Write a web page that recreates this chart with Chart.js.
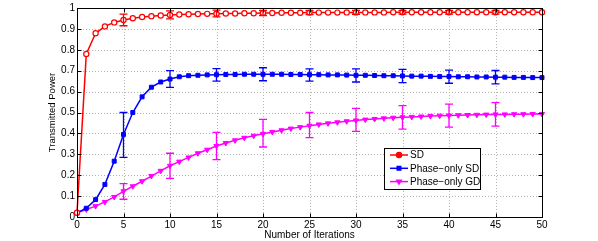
<!DOCTYPE html>
<html lang="en">
<head>
  <meta charset="UTF-8">
  <title>Transmitted Power vs Iterations</title>
  <script src="https://cdn.jsdelivr.net/npm/chart.js"></script>
  <style>
    body { margin: 0; background: #fff; }
  </style>
</head>
<body>
  <canvas id="chart" width="598" height="241"></canvas>

  <script>
    // iterations 0..50
    const iterations = [0, 1, 2, 3, 4, 5, 6, 7, 8, 9, 10, 11, 12, 13, 14, 15, 16, 17, 18, 19, 20,
      21, 22, 23, 24, 25, 26, 27, 28, 29, 30, 31, 32, 33, 34, 35, 36, 37, 38, 39, 40,
      41, 42, 43, 44, 45, 46, 47, 48, 49, 50];

    const sd = [0.02, 0.78, 0.879, 0.912, 0.931, 0.943, 0.951, 0.957, 0.961, 0.964, 0.967,
      0.969, 0.970, 0.971, 0.972, 0.973, 0.974, 0.974, 0.975, 0.975, 0.976,
      0.976, 0.977, 0.977, 0.977, 0.978, 0.978, 0.978, 0.978, 0.979, 0.979,
      0.979, 0.979, 0.979, 0.980, 0.980, 0.980, 0.980, 0.980, 0.980, 0.980,
      0.980, 0.980, 0.980, 0.980, 0.980, 0.980, 0.980, 0.980, 0.980, 0.980];

    const phaseSD = [0.02, 0.042, 0.083, 0.156, 0.267, 0.395, 0.50, 0.575, 0.621, 0.646, 0.660,
      0.671, 0.676, 0.678, 0.680, 0.681, 0.682, 0.682, 0.683, 0.683, 0.683,
      0.683, 0.683, 0.682, 0.682, 0.681, 0.681, 0.680, 0.680, 0.679, 0.678,
      0.678, 0.677, 0.676, 0.676, 0.675, 0.674, 0.674, 0.673, 0.672, 0.672,
      0.671, 0.671, 0.670, 0.670, 0.669, 0.669, 0.668, 0.668, 0.667, 0.667];

    const phaseGD = [0.02, 0.036, 0.052, 0.072, 0.096, 0.123, 0.147, 0.171, 0.196, 0.221, 0.245,
      0.265, 0.285, 0.305, 0.322, 0.340, 0.354, 0.367, 0.379, 0.389, 0.398,
      0.407, 0.415, 0.423, 0.430, 0.437, 0.443, 0.448, 0.453, 0.458, 0.462,
      0.466, 0.469, 0.472, 0.475, 0.477, 0.479, 0.481, 0.483, 0.485, 0.486,
      0.487, 0.488, 0.489, 0.490, 0.491, 0.491, 0.492, 0.492, 0.493, 0.493];

    // error bars every 5 iterations
    const errIters = [5, 10, 15, 20, 25, 30, 35, 40, 45];
    const sdLo = [0.915, 0.948, 0.958, 0.964, 0.968, 0.970, 0.971, 0.971, 0.971];
    const sdHi = [0.971, 0.986, 0.990, 0.988, 0.988, 0.989, 0.989, 0.989, 0.989];
    const phaseSDLo = [0.285, 0.620, 0.650, 0.652, 0.650, 0.646, 0.643, 0.640, 0.637];
    const phaseSDHi = [0.500, 0.700, 0.710, 0.714, 0.709, 0.709, 0.706, 0.703, 0.701];
    const phaseGDLo = [0.085, 0.185, 0.275, 0.335, 0.380, 0.410, 0.420, 0.430, 0.435];
    const phaseGDHi = [0.160, 0.305, 0.405, 0.467, 0.500, 0.520, 0.533, 0.540, 0.547];

    const seriesNames = ['SD', 'Phase\u2212only SD', 'Phase\u2212only GD'];
    const seriesColors = ['#ff0000', '#0000ff', '#ff00ff'];

    const FONT = '"Liberation Sans", Arial, Helvetica, sans-serif';

    function toPoints(ys) {
      return iterations.map((x, i) => ({ x: x, y: ys[i] }));
    }

    const errorSets = [
      { lo: sdLo, hi: sdHi },
      { lo: phaseSDLo, hi: phaseSDHi },
      { lo: phaseGDLo, hi: phaseGDHi }
    ];

    // matlab style grid + box with inward ticks
    const matlabAxes = {
      id: 'matlabAxes',
      beforeDatasetsDraw(chart) {
        const { ctx, chartArea: a, scales: { x, y } } = chart;
        ctx.save();
        ctx.strokeStyle = '#b4b4b4';
        ctx.lineWidth = 1;
        ctx.setLineDash([1, 2]);
        x.ticks.forEach(t => {
          const px = Math.round(x.getPixelForValue(t.value)) + 0.5;
          if (px <= a.left + 1 || px >= a.right - 1) return;
          ctx.beginPath(); ctx.moveTo(px, a.top); ctx.lineTo(px, a.bottom); ctx.stroke();
        });
        y.ticks.forEach(t => {
          const py = Math.round(y.getPixelForValue(t.value)) + 0.5;
          if (py <= a.top + 1 || py >= a.bottom - 1) return;
          ctx.beginPath(); ctx.moveTo(a.left, py); ctx.lineTo(a.right, py); ctx.stroke();
        });
        ctx.restore();
      },
      afterDatasetsDraw(chart) {
        const { ctx, chartArea: a, scales: { x, y } } = chart;

        // error bars
        ctx.save();
        ctx.lineWidth = 1.3;
        errorSets.forEach((e, s) => {
          ctx.strokeStyle = seriesColors[s];
          errIters.forEach((it, i) => {
            const px = x.getPixelForValue(it);
            const p1 = y.getPixelForValue(e.lo[i]);
            const p2 = y.getPixelForValue(e.hi[i]);
            ctx.beginPath();
            ctx.moveTo(px, p1); ctx.lineTo(px, p2);
            ctx.moveTo(px - 4, p1); ctx.lineTo(px + 4, p1);
            ctx.moveTo(px - 4, p2); ctx.lineTo(px + 4, p2);
            ctx.stroke();
          });
        });
        ctx.restore();

        // box and ticks
        ctx.save();
        ctx.strokeStyle = '#000';
        ctx.lineWidth = 1;
        const L = Math.round(a.left) + 0.5, R = Math.round(a.right) + 0.5;
        const T = Math.round(a.top) + 0.5, B = Math.round(a.bottom) + 0.5;
        ctx.strokeRect(L, T, R - L, B - T);
        ctx.beginPath();
        x.ticks.forEach(t => {
          const px = Math.round(x.getPixelForValue(t.value)) + 0.5;
          ctx.moveTo(px, B); ctx.lineTo(px, B - 4);
          ctx.moveTo(px, T); ctx.lineTo(px, T + 4);
        });
        y.ticks.forEach(t => {
          const py = Math.round(y.getPixelForValue(t.value)) + 0.5;
          ctx.moveTo(L, py); ctx.lineTo(L + 4, py);
          ctx.moveTo(R, py); ctx.lineTo(R - 4, py);
        });
        ctx.stroke();
        ctx.restore();
      }
    };

    // legend box inside the plot, lower right
    const boxLegend = {
      id: 'boxLegend',
      afterDraw(chart) {
        const { ctx } = chart;
        const bx = 384.5, by = 148.5, bw = 96, bh = 41;
        ctx.save();
        ctx.fillStyle = '#fff';
        ctx.fillRect(bx, by, bw, bh);
        ctx.strokeStyle = '#000';
        ctx.lineWidth = 1;
        ctx.strokeRect(bx, by, bw, bh);
        ctx.font = '10px ' + FONT;
        ctx.textBaseline = 'middle';
        ctx.textAlign = 'left';
        chart.data.datasets.forEach((ds, i) => {
          const ry = 155 + i * 13.3;
          ctx.strokeStyle = ds.borderColor;
          ctx.lineWidth = 1.5;
          ctx.beginPath(); ctx.moveTo(390, ry); ctx.lineTo(408, ry); ctx.stroke();
          Chart.helpers.drawPoint(ctx, {
            pointStyle: ds.pointStyle, radius: 2.5, rotation: ds.pointRotation || 0, borderWidth: 1
          }, 399, ry);
          ctx.fillStyle = ds.borderColor;
          ctx.fill();
          ctx.fillStyle = '#000';
          ctx.fillText(ds.label, 410, ry + 0.5);
        });
        ctx.restore();
      }
    };

    new Chart(document.getElementById('chart'), {
      type: 'line',
      data: {
        datasets: [
          {
            label: seriesNames[0],
            data: toPoints(sd),
            borderColor: seriesColors[0],
            backgroundColor: '#fff',
            borderWidth: 1.5,
            pointStyle: 'circle',
            pointRadius: 2.6,
            pointBorderWidth: 1.2,
            clip: false
          },
          {
            label: seriesNames[1],
            data: toPoints(phaseSD),
            borderColor: seriesColors[1],
            backgroundColor: seriesColors[1],
            borderWidth: 1.5,
            pointStyle: 'rect',
            pointRadius: 2.8,
            pointBorderWidth: 1,
            clip: false
          },
          {
            label: seriesNames[2],
            data: toPoints(phaseGD),
            borderColor: seriesColors[2],
            backgroundColor: seriesColors[2],
            borderWidth: 1.5,
            pointStyle: 'triangle',
            pointRotation: 180,
            pointRadius: 3,
            pointBorderWidth: 1,
            clip: false
          }
        ]
      },
      options: {
        responsive: false,
        animation: false,
        layout: { padding: { left: 46, right: 56, top: 5, bottom: 0 } },
        plugins: {
          legend: { display: false },
          tooltip: { enabled: false }
        },
        scales: {
          x: {
            type: 'linear',
            min: 0,
            max: 50,
            afterFit: s => { s.height = 24; },
            ticks: { stepSize: 5, color: '#000', padding: 2, font: { family: FONT, size: 10 } },
            grid: { display: false, drawTicks: false },
            border: { display: false },
            title: {
              display: true, text: 'Number of Iterations', color: '#000',
              padding: 0, font: { family: FONT, size: 10 }
            }
          },
          y: {
            min: 0,
            max: 1,
            afterFit: s => { s.width = 31; },
            ticks: {
              stepSize: 0.1, color: '#000', padding: 2, font: { family: FONT, size: 10 },
              callback: v => String(+v.toFixed(1))
            },
            grid: { display: false, drawTicks: false },
            border: { display: false },
            title: {
              display: true, text: 'Transmitted Power', color: '#000',
              padding: { top: 1, bottom: 0 }, font: { family: FONT, size: 9.5 }
            }
          }
        }
      },
      plugins: [matlabAxes, boxLegend]
    });
  </script>
</body>
</html>
